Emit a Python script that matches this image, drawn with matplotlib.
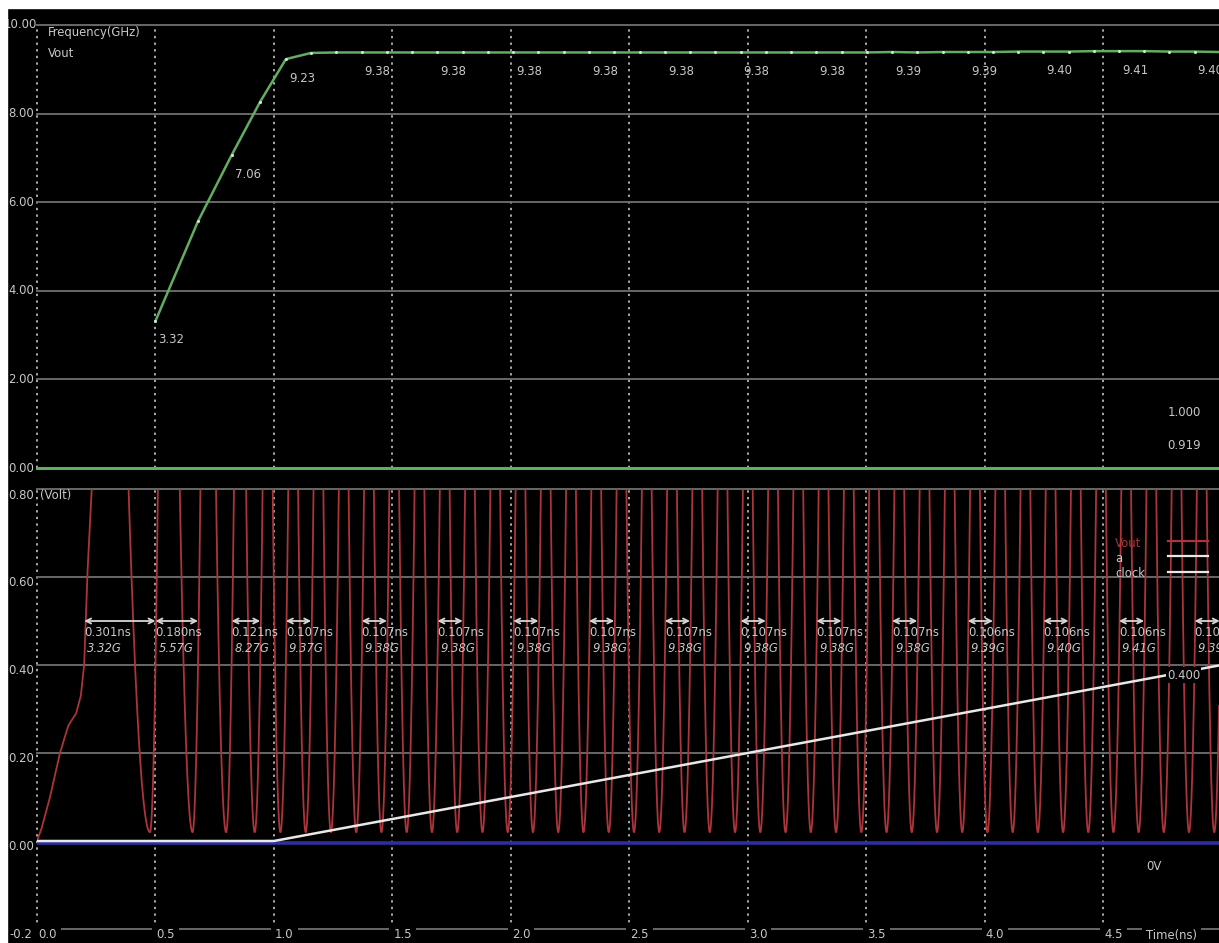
import numpy as np
import matplotlib
matplotlib.use("Agg")
import matplotlib.pyplot as plt
from matplotlib.patches import Rectangle
from matplotlib.transforms import offset_copy

plt.rcParams['font.family'] = ['DejaVu Sans']

# measured frequency of every Vout cycle (GHz), rising edge to rising edge at 0.4V
cycle_freq = [3.32, 5.57, 7.06, 8.27, 9.23, 9.37,
              9.38, 9.38, 9.38, 9.38, 9.38, 9.38, 9.38, 9.38, 9.38, 9.38, 9.38,
              9.38, 9.38, 9.38, 9.38, 9.38, 9.38, 9.38, 9.38, 9.38, 9.38, 9.38,
              9.39, 9.38, 9.39, 9.39, 9.39, 9.40, 9.40, 9.40, 9.41, 9.41, 9.41,
              9.40, 9.40, 9.39, 9.39]
first_edge = 0.199  # ns, first rising edge of Vout

# cycles labelled in the frequency pane / measured with arrows in the Vout pane
freq_marked = [0, 2, 4, 7, 10, 13, 16, 19, 22, 25, 28, 31, 34, 37, 40]
period_marked = [0, 1, 3, 5, 8, 11, 14, 17, 20, 23, 26, 29, 32, 35, 38, 41]

# Vout start-up before the ring oscillates
startup_t = [0.0, 0.02, 0.055, 0.097, 0.132, 0.165, 0.185, 0.199, 0.214, 0.231, 0.245]
startup_v = [0.0, 0.03, 0.10, 0.20, 0.262, 0.29, 0.33, 0.40, 0.62, 0.80, 1.0]
v_low = 0.02       # trough level of Vout (V)
rise_lead = 0.0233  # ns from trough to the 0.4V crossing

# control input "a"
a_t = [0.0, 1.0, 5.0]
a_v = [0.0, 0.0, 0.400]

freq_ticks = [10, 8, 6, 4, 2, 0]
volt_ticks = [0.8, 0.6, 0.4, 0.2, 0.0]
time_ticks = [0.0, 0.5, 1.0, 1.5, 2.0, 2.5, 3.0, 3.5, 4.0, 4.5]

W, H = 1219, 943
txt = '#c8c8c8'
grid = '#707070'
dots = '#a8a8a8'
red = '#ad343a'
green = '#62ad62'
fs = 8.4

fig = plt.figure(figsize=(W / 100, H / 100), dpi=100, facecolor='black')
x0 = 37
xmax = (W - x0) / 236.9
ax_f = fig.add_axes([x0 / W, (H - 468) / H, (W - x0) / W, 443 / H])
ax_v = fig.add_axes([x0 / W, 14 / H, (W - x0) / W, 440 / H])
for ax in (ax_f, ax_v):
    ax.set_facecolor('black')
    ax.set_xlim(0, xmax)
    ax.axis('off')
    for t in time_ticks:
        ax.axvline(t, color=dots, lw=1.4, ls=(0, (1.2, 2.2)), zorder=1, clip_on=False)
ax_f.set_ylim(0, 10)
ax_v.set_ylim(-0.2, 0.8)

# frequency pane
for f in freq_ticks[:-1]:
    ax_f.axhline(f, color=grid, lw=1.3, zorder=1, clip_on=False)
ax_f.axhline(0, color=green, lw=2.2, zorder=2, clip_on=False)

periods = 1.0 / np.array(cycle_freq)
edges = first_edge + np.cumsum(periods)
ax_f.plot(edges, cycle_freq, color=green, lw=1.8, zorder=3)
ax_f.plot(edges, cycle_freq, ls='none', marker='o', ms=2.2, mfc='#cfe6cf', mec='none', zorder=4)
for k in freq_marked:
    ax_f.annotate(f"{cycle_freq[k]:.2f}", (edges[k], cycle_freq[k]), xytext=(3, -19),
                  textcoords='offset pixels', ha='left', va='center', color=txt, fontsize=fs)

ax_f.text(0.046, 9.82, 'Frequency(GHz)', color=txt, fontsize=fs, va='center', ha='left')
ax_f.text(0.046, 9.35, 'Vout', color=txt, fontsize=fs, va='center', ha='left')
ax_f.text(4.772, 1.264, '1.000', color=txt, fontsize=fs, va='center', ha='left')
ax_f.text(4.772, 0.497, '0.919', color=txt, fontsize=fs, va='center', ha='left')
for f in freq_ticks:
    dx = 0 if f == 10 else -3
    ax_f.text(dx / 236.9, f, f"{f:.2f}", color=txt, fontsize=fs, ha='right', va='center',
              clip_on=False)

# Vout pane
for v in [0.8, 0.6, 0.4, 0.2, -0.2]:
    ax_v.axhline(v, color=grid, lw=1.3, zorder=1, clip_on=False)
zero_tr = offset_copy(ax_v.transData, fig=fig, x=0, y=-2, units='dots')
ax_v.plot([0, xmax], [0, 0], color='#2e2e9c', lw=2.6, zorder=2, transform=zero_tr)

t_osc = np.linspace(0.245, 5.0, 40000)
v_osc = np.full(t_osc.shape, 2.0)
a_rise = (0.4 - v_low) / rise_lead ** 2
for edge, T in zip(edges, periods):
    d = t_osc - (edge - rise_lead)
    a = np.where(d < 0, (0.8 - v_low) / (0.3 * T) ** 2, a_rise)
    v_osc = np.minimum(v_osc, v_low + a * d * d)
vout_t = np.concatenate([startup_t, t_osc])
vout_v = np.concatenate([startup_v, v_osc])
ax_v.plot(vout_t, vout_v, color=red, lw=1.3, zorder=3)

ax_v.plot(a_t, a_v, color='#e8e8e8', lw=1.8, zorder=4)
a_lbl_t = 4.77
ax_v.text(a_lbl_t, np.interp(a_lbl_t, a_t, a_v), f"{a_v[-1]:.3f}", color=txt, fontsize=fs,
          ha='left', va='center', zorder=6,
          bbox=dict(boxstyle='square,pad=0.1', fc='black', ec='none'))

for k in period_marked:
    start, end = edges[k] - periods[k], edges[k]
    ax_v.annotate('', xy=(start, 0.5), xytext=(end, 0.5),
                  arrowprops=dict(arrowstyle='<->', color='#d6d6d6', lw=1.3,
                                  shrinkA=0, shrinkB=0, mutation_scale=9), zorder=5)
    ax_v.annotate(f"{periods[k]:.3f}ns", (start, 0.5), xytext=(0, -11),
                  textcoords='offset pixels', ha='left', va='center', color=txt, fontsize=fs,
                  zorder=6)
    ax_v.annotate(f"{cycle_freq[k]:.2f}G", (start, 0.5), xytext=(3, -28),
                  textcoords='offset pixels', ha='left', va='center', color=txt, fontsize=fs,
                  style='italic', zorder=6)

# legend
leg = [('Vout', red, 0.677, 0.682), ('a', '#e8e8e8', 0.641, 0.648), ('clock', '#e8e8e8', 0.607, 0.611)]
for name, col, ty, ly in leg:
    ax_v.text(4.552, ty, name, color=col if name == 'Vout' else txt, fontsize=fs,
              ha='left', va='center', zorder=6)
    ax_v.plot([4.776, 4.945], [ly, ly], color=col, lw=1.6, zorder=6)

ax_v.text(0.013, 0.786, '(Volt)', color=txt, fontsize=fs, ha='left', va='center')
ax_v.text(4.683, -0.059, '0V', color=txt, fontsize=fs, ha='left', va='center')

shift = 6 / 440
for v in volt_ticks:
    ax_v.text(-3 / 236.9, v - shift, f"{v:.2f}", color=txt, fontsize=fs, ha='right',
              va='center', clip_on=False)
ax_v.text(-5 / 236.9, -0.2 - shift, '-0.2', color=txt, fontsize=fs, ha='right',
          va='center', clip_on=False)
for t in time_ticks:
    ax_v.text(t + 1 / 236.9, -0.2 - shift, f"{t:.1f}", color=txt, fontsize=fs, ha='left',
              va='center', clip_on=False, zorder=6,
              bbox=dict(boxstyle='square,pad=0.35', fc='black', ec='none'))
ax_v.text(4.681, -0.2 - shift, 'Time(ns)', color=txt, fontsize=fs, ha='left', va='center',
          clip_on=False, zorder=6, bbox=dict(boxstyle='square,pad=0.35', fc='black', ec='none'))

# white frame strips at the top and left edges
fig.add_artist(Rectangle((0, 1 - 8 / H), 1, 8 / H, transform=fig.transFigure,
                         color='white', zorder=20))
fig.add_artist(Rectangle((0, 0), 7 / W, 1, transform=fig.transFigure,
                         color='white', zorder=20))

fig.savefig('out.png', dpi=100, facecolor='black')
